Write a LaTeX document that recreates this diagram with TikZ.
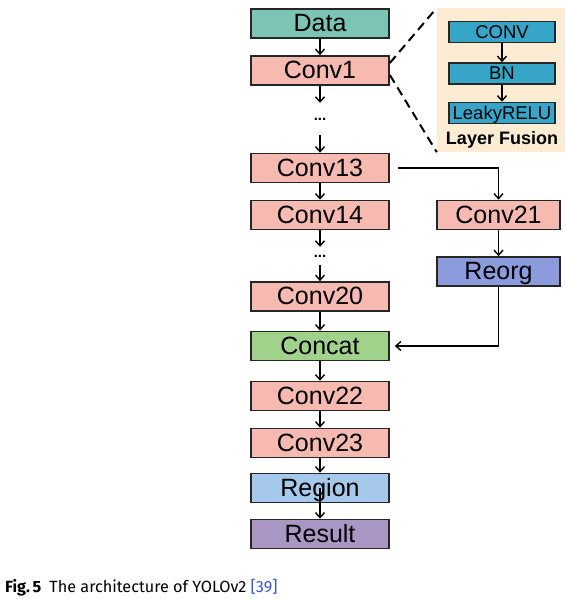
\documentclass[tikz,border=0pt]{standalone}
\usepackage{fontspec}
\setmainfont{Liberation Sans}
\newfontfamily\capfont{Fira Sans}
\usetikzlibrary{arrows.meta}
\definecolor{datafill}{HTML}{7CC4B4}
\definecolor{convfill}{HTML}{F6BAB0}
\definecolor{catfill}{HTML}{A0D28C}
\definecolor{reorgfill}{HTML}{8C9BDC}
\definecolor{regionfill}{HTML}{A5C8EB}
\definecolor{resultfill}{HTML}{AA96C3}
\definecolor{fusefill}{HTML}{37A5C8}
\definecolor{panelfill}{HTML}{FCECD4}
\definecolor{citeblue}{HTML}{3B55D0}
\tikzset{
	blk/.style={draw=black!85,line width=1.7pt,minimum width=138pt,minimum height=29pt,inner sep=0pt,
		font=\fontsize{25}{25}\selectfont,text height=18pt,text depth=2pt},
	side/.style={blk,minimum width=123pt},
	fuse/.style={draw=black!85,line width=1.6pt,fill=fusefill,minimum width=106pt,minimum height=21pt,inner sep=0pt,
		font=\fontsize{18.5}{18.5}\selectfont,text height=14pt,text depth=1pt},
	dots/.style={inner sep=0pt,font=\fontsize{15}{15}\selectfont\bfseries},
	arr/.style={line width=1.4pt,-{Straight Barb[length=5pt,width=9pt]}},
	zoomline/.style={line width=2pt,dash pattern=on 9pt off 5.5pt},
}
\begin{document}
\begin{tikzpicture}[x=1pt,y=-1pt]
	\useasboundingbox(0,0)rectangle(565,599);
	\node[blk,fill=datafill](data)at(320,23.5){Data};
	\node[blk,fill=convfill](conv1)at(320,70.5){Conv1};
	\node[dots,minimum height=32pt](dotsa)at(320,119){...};
	\node[blk,fill=convfill](conv13)at(320,168){Conv13};
	\node[blk,fill=convfill](conv14)at(320,215){Conv14};
	\node[dots,minimum height=18pt](dotsb)at(320,256){...};
	\node[blk,fill=convfill](conv20)at(320,296.5){Conv20};
	\node[blk,fill=catfill](concat)at(320,346){Concat};
	\node[blk,fill=convfill](conv22)at(320,396){Conv22};
	\node[blk,fill=convfill](conv23)at(320,443){Conv23};
	\node[blk,fill=regionfill](region)at(320,488){Region};
	\node[blk,fill=resultfill](result)at(320,534){Result};
	\node[side,fill=convfill](conv21)at(498.5,215){Conv21};
	\node[side,fill=reorgfill](reorg)at(498.5,271.5){Reorg};
	\draw[arr](data)--(conv1);
	\draw[arr](conv1)--(dotsa);
	\draw[arr](dotsa)--(conv13);
	\draw[arr](conv13)--(conv14);
	\draw[arr](conv14)--(dotsb);
	\draw[arr](dotsb)--(conv20);
	\draw[arr](conv20)--(concat);
	\draw[arr](concat)--(conv22);
	\draw[arr](conv22)--(conv23);
	\draw[arr](conv23)--(region);
	\draw[arr](region.center)--(result);
	\draw[arr,shorten <=8pt](conv13.east)-|(conv21.north);
	\draw[arr](conv21)--(reorg);
	\draw[arr,shorten >=5pt](reorg.south)|-(concat.east);
	\node[fill=panelfill,minimum width=128pt,minimum height=144pt,inner sep=0pt](panel)at(501,80){};
	\node[fuse](fconv)at(502,32){CONV};
	\node[fuse](fbn)at(502,73.5){BN};
	\node[fuse](frelu)at(502,113){LeakyRELU};
	\node[font=\fontsize{18}{18}\selectfont\bfseries](fname)at(502,140){Layer Fusion};
	\draw[arr](fconv)--(fbn);
	\draw[arr](fbn)--(frelu);
	\draw[zoomline]([yshift=7.5pt]conv1.east)--(panel.north west);
	\draw[zoomline]([yshift=-4.5pt]conv1.east)--(panel.south west);
	\node[anchor=west,inner sep=0pt,font=\capfont\fontsize{16.2}{16.2}\selectfont](caption)at(5,588)
		{\textbf{Fig.\,5}\enspace The architecture of YOLOv2 \textcolor{citeblue}{[39]}};
\end{tikzpicture}
\end{document}
